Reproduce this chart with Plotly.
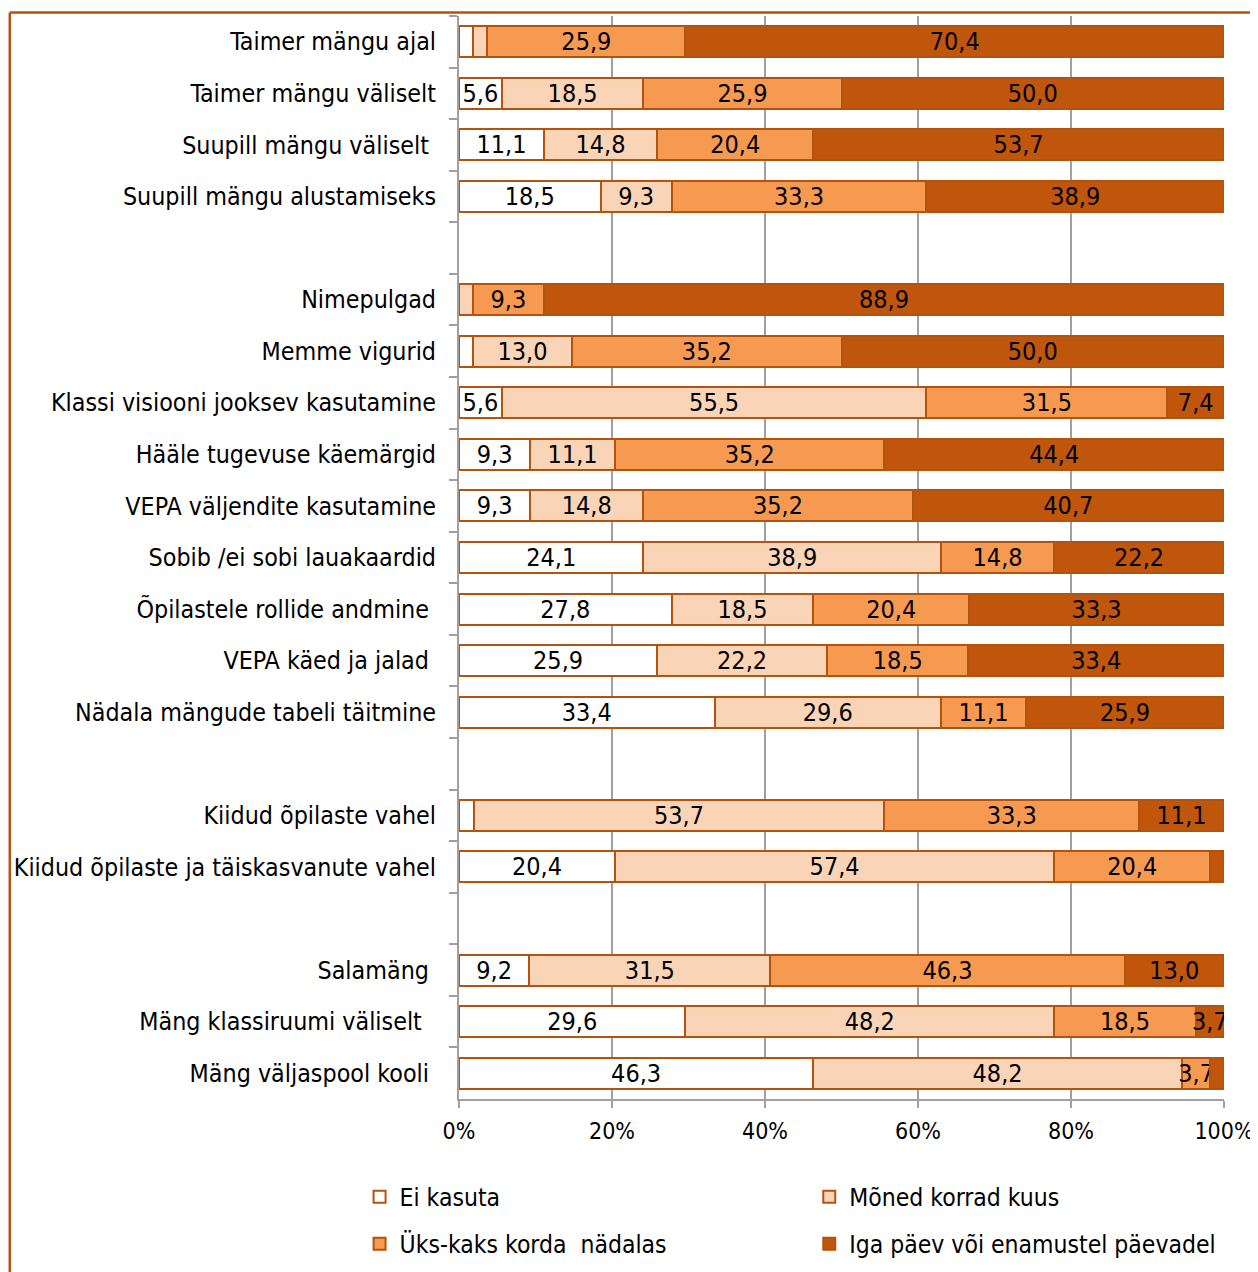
import plotly.graph_objects as go

categories = [
    "Taimer mängu ajal", "Taimer mängu väliselt", "Suupill mängu väliselt\u00a0",
    "Suupill mängu alustamiseks", " ", "Nimepulgad", "Memme vigurid",
    "Klassi visiooni jooksev kasutamine", "Hääle tugevuse käemärgid",
    "VEPA väljendite kasutamine", "Sobib /ei sobi lauakaardid",
    "Õpilastele rollide andmine\u00a0", "VEPA käed ja jalad\u00a0",
    "Nädala mängude tabeli täitmine", "  ", "Kiidud õpilaste vahel",
    "Kiidud õpilaste ja täiskasvanute vahel", "   ", "Salamäng\u00a0",
    "Mäng klassiruumi väliselt\u00a0\u00a0", "Mäng väljaspool kooli\u00a0",
]
ei_kasuta = [1.8, 5.6, 11.1, 18.5, None, None, 1.8, 5.6, 9.3, 9.3, 24.1, 27.8, 25.9, 33.4,
             None, 1.9, 20.4, None, 9.2, 29.6, 46.3]
moned_korrad = [1.9, 18.5, 14.8, 9.3, None, 1.8, 13.0, 55.5, 11.1, 14.8, 38.9, 18.5, 22.2, 29.6,
                None, 53.7, 57.4, None, 31.5, 48.2, 48.2]
uks_kaks = [25.9, 25.9, 20.4, 33.3, None, 9.3, 35.2, 31.5, 35.2, 35.2, 14.8, 20.4, 18.5, 11.1,
            None, 33.3, 20.4, None, 46.3, 18.5, 3.7]
iga_paev = [70.4, 50.0, 53.7, 38.9, None, 88.9, 50.0, 7.4, 44.4, 40.7, 22.2, 33.3, 33.4, 25.9,
            None, 11.1, 1.8, None, 13.0, 3.7, 1.8]

series_names = ["Ei kasuta", "Mõned korrad kuus", "Üks-kaks korda  nädalas",
                "Iga päev või enamustel päevadel"]
series_values = [ei_kasuta, moned_korrad, uks_kaks, iga_paev]
colors = ["#FFFFFF", "#FAD4B6", "#F59A50", "#C0560C"]
legends = ["legend", "legend2", "legend", "legend2"]

LABEL_FONT = "DejaVu Sans Condensed"
NUM_FONT = "DejaVu Sans Condensed"

# page (screenshot) coordinates; the html body adds an 8px offset
OFF = 8
W, H = 1258 - OFF, 1272 - OFF
PL, PR, PT, PB = 458.5, 1224, 15.5, 1099.5
L, R, T, B = PL - OFF, PR - OFF, PT - OFF, PB - OFF


def px_x(p):
    return (p - OFF - L) / (R - L)


def px_y(p):
    return (B - (p - OFF)) / (B - T)


def label(v):
    if v is None or v < 3:
        return ""
    return f"{v:.1f}".replace(".", ",")


fig = go.Figure()
for name, vals, col, lg in zip(series_names, series_values, colors, legends):
    fig.add_trace(go.Bar(
        y=categories, x=vals, name=name, orientation="h",
        marker=dict(color=col, line=dict(color="#B4530E", width=2)),
        width=0.6,
        text=[label(v) for v in vals],
        textposition="inside", insidetextanchor="middle", textangle=0,
        textfont=dict(family=NUM_FONT, size=25, color="#000000"),
        legend=lg, legendgroup=name,
        hoverinfo="skip",
    ))

GRID = "#A0A0A0"
fig.update_layout(
    width=W, height=H,
    margin=dict(l=L, r=W - R, t=T, b=H - B, autoexpand=False),
    barmode="stack",
    plot_bgcolor="white", paper_bgcolor="white",
    font=dict(family=LABEL_FONT, size=25, color="#000000"),
    separators=", ",
    uniformtext=dict(minsize=25, mode="show"),
    xaxis=dict(
        range=[0, 100], tickvals=[0, 20, 40, 60, 80, 100],
        ticktext=["0%", "20%", "40%", "60%", "80%", "100%"],
        showgrid=True, gridcolor=GRID, gridwidth=2,
        showline=True, linecolor=GRID, linewidth=2,
        ticks="outside", ticklen=7, tickcolor=GRID, tickwidth=2,
        zeroline=False, ticklabelstandoff=3, automargin=False,
        tickfont=dict(family=NUM_FONT, size=23),
    ),
    yaxis=dict(
        type="category", categoryorder="array", categoryarray=categories,
        autorange="reversed",
        showline=True, linecolor=GRID, linewidth=2,
        ticks="outside", ticklen=8, tickcolor=GRID, tickwidth=2,
        tickson="boundaries", showgrid=False, ticklabelstandoff=16,
        automargin=False,
        tickfont=dict(family=LABEL_FONT, size=24.8),
    ),
    legend=dict(x=px_x(359), y=px_y(1175), xanchor="left", yanchor="top",
                orientation="v", tracegroupgap=12, traceorder="grouped",
                font=dict(family=LABEL_FONT, size=24.5), bgcolor="rgba(0,0,0,0)"),
    legend2=dict(x=px_x(809), y=px_y(1175), xanchor="left", yanchor="top",
                 orientation="v", tracegroupgap=12, traceorder="grouped",
                 font=dict(family=LABEL_FONT, size=24.5), bgcolor="rgba(0,0,0,0)"),
    shapes=[
        dict(type="line", xref="paper", yref="paper", x0=px_x(9), x1=px_x(1300),
             y0=px_y(12), y1=px_y(12), line=dict(color="#B4530E", width=2.5)),
        dict(type="line", xref="paper", yref="paper", x0=px_x(9), x1=px_x(9),
             y0=px_y(12), y1=px_y(1300), line=dict(color="#B4530E", width=2.5)),
    ],
)

fig.write_html("out.html")
